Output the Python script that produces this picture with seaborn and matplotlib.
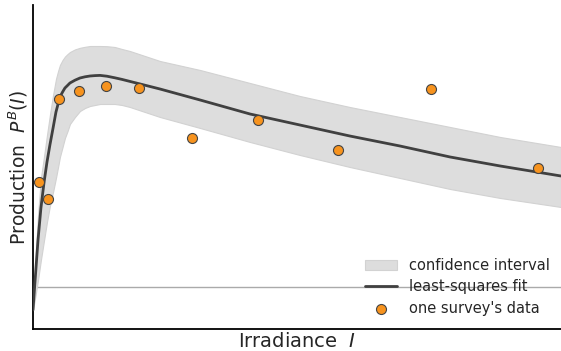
import matplotlib
matplotlib.use("Agg")
import matplotlib.pyplot as plt
import pandas as pd
import seaborn as sns

# survey data (irradiance, production)
survey_I = [23, 57, 98, 174, 277, 402, 602, 852, 1155, 1508, 1913]
survey_P = [2.625, 2.2, 4.7, 4.9, 5.025, 4.975, 3.725, 4.175, 3.425, 4.95, 2.975]

# least-squares fit and its confidence band
fit_I = [0, 8, 19, 30, 42, 53, 64, 76, 87, 95, 102, 112, 121, 131, 140, 159,
         178, 197, 216, 235, 254, 280, 310, 337, 367, 481, 633, 822, 1011,
         1200, 1390, 1580, 1770, 2000]
fit_P = [-0.575, 0.175, 1.175, 1.975, 2.625, 3.125, 3.55, 3.975, 4.375, 4.575,
         4.75, 4.875, 4.975, 5.04, 5.1, 5.17, 5.225, 5.255, 5.275, 5.285, 5.29,
         5.27, 5.23, 5.19, 5.14, 4.95, 4.675, 4.325, 4.05, 3.775, 3.525,
         3.25, 3.025, 2.775]
ci_upper = [-0.575, 0.55, 1.8, 2.725, 3.275, 3.8, 4.3, 4.8, 5.2, 5.4, 5.55,
            5.675, 5.76, 5.825, 5.875, 5.94, 5.98, 6.005, 6.025, 6.025, 6.025,
            6.02, 6.0, 5.95, 5.9, 5.65, 5.425, 5.1, 4.775, 4.5, 4.25, 4.0,
            3.75, 3.5]
ci_lower = [-0.575, -0.275, 0.175, 0.675, 1.175, 1.625, 2.025, 2.375, 2.725,
            3.0, 3.25, 3.5, 3.725, 3.9, 4.075, 4.25, 4.4, 4.475, 4.525, 4.55,
            4.575, 4.575, 4.575, 4.55, 4.5, 4.25, 3.975, 3.625, 3.3, 3.0,
            2.725, 2.45, 2.225, 2.0]

fit_df = pd.DataFrame({"I": fit_I, "P": fit_P, "lo": ci_lower, "hi": ci_upper})
obs_df = pd.DataFrame({"I": survey_I, "P": survey_P})

sns.set_style("ticks")
plt.rcParams["font.family"] = ["DejaVu Sans"]

fig = plt.figure(figsize=(5.61, 3.51), dpi=100)
ax = fig.add_axes([33 / 561, 22 / 351, 528 / 561, 324 / 351])

ax.axhline(0, color="#aaaaaa", lw=1.0, zorder=1)
ax.fill_between(fit_df["I"], fit_df["lo"], fit_df["hi"], color="#dddddd",
                edgecolor="#d2d2d2", lw=0.8, label="confidence interval", zorder=2)
sns.lineplot(data=fit_df, x="I", y="P", ax=ax, color="#404040", lw=2.0,
             label="least-squares fit", zorder=3)
sns.scatterplot(data=obs_df, x="I", y="P", ax=ax, color="#f7931e",
                edgecolor="#444444", linewidth=0.8, s=52,
                label="one survey's data", zorder=4)

ax.set_xlim(0, 2000)
ax.set_ylim(-1.05, 7.05)
ax.set_xticks([])
ax.set_yticks([])
ax.set_xlabel("Irradiance  $I$", fontsize=14, labelpad=2)
ax.set_ylabel("Production  $P^B(I)$", fontsize=13.5, labelpad=2)
for side in ["top", "right"]:
    ax.spines[side].set_visible(False)
for side in ["left", "bottom"]:
    ax.spines[side].set_linewidth(1.3)
    ax.spines[side].set_color("black")

ax.legend(loc="lower right", bbox_to_anchor=(1.001, 0.004), frameon=False,
          fontsize=10.5, handlelength=2.2, borderaxespad=0.4, labelspacing=0.45)

fig.savefig("out.png", dpi=100)
